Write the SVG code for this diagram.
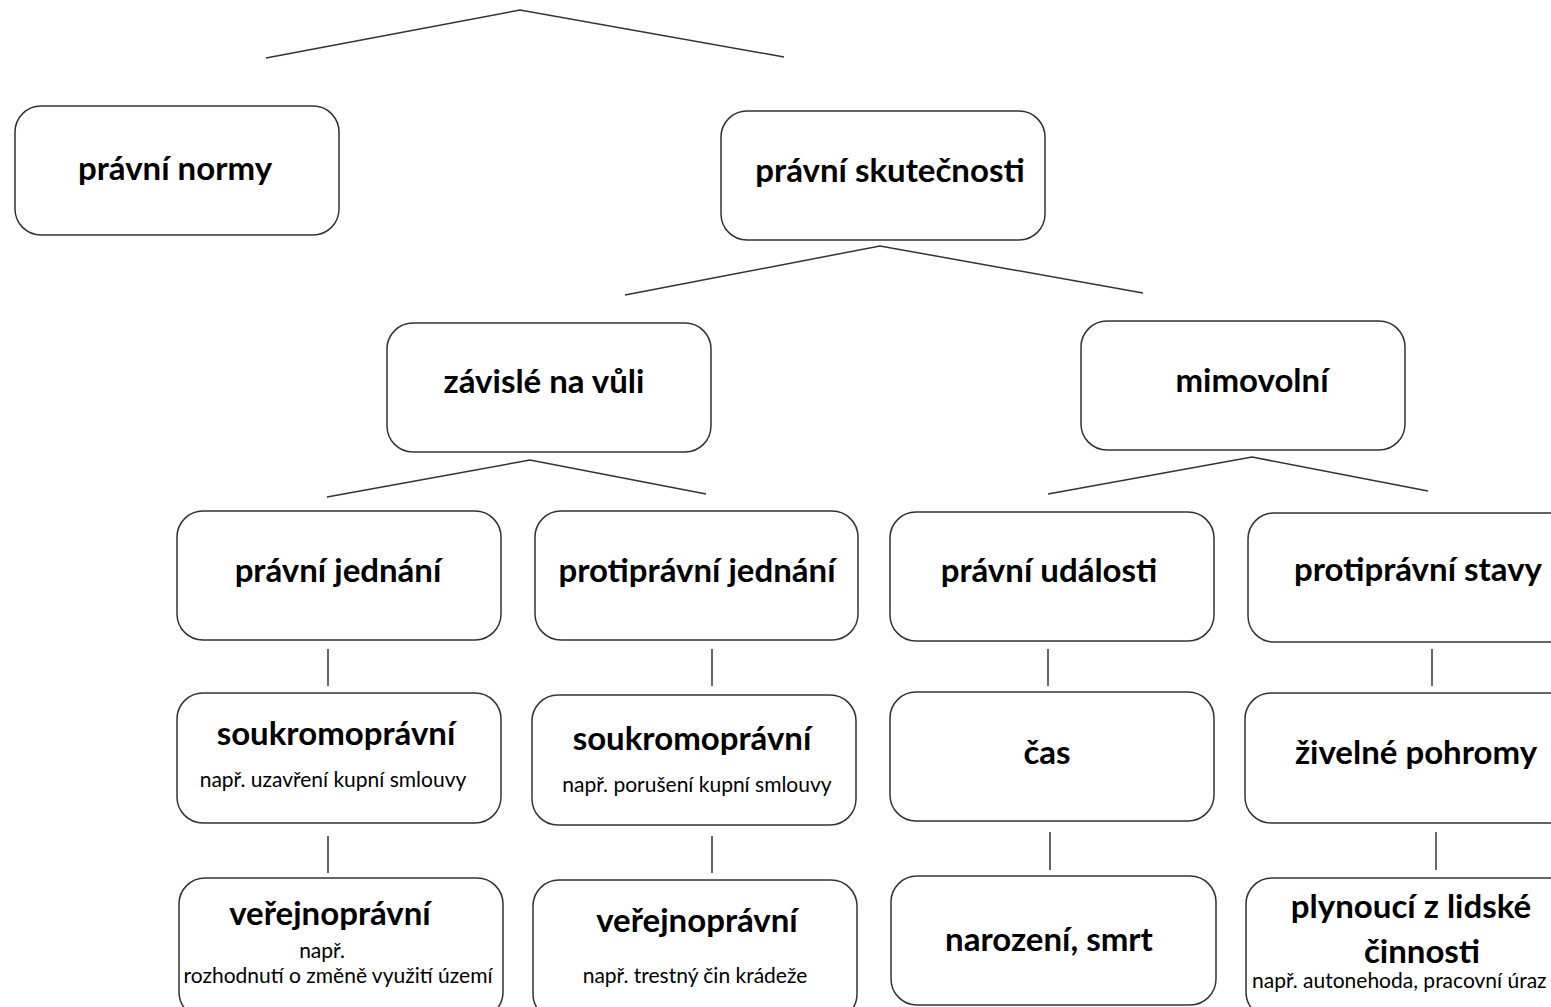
<svg xmlns="http://www.w3.org/2000/svg" width="1551" height="1007" viewBox="0 0 1551 1007">
<style>
.box{fill:#fff;stroke:#333;stroke-width:1.5}
.ln{fill:none;stroke:#333;stroke-width:1.5}
.t{font-family:Lato,"Open Sans","Liberation Sans",sans-serif;font-weight:bold;font-size:33px;fill:#000;text-anchor:middle}
.s{font-family:Lato,"Open Sans","Liberation Sans",sans-serif;font-size:21px;fill:#000;text-anchor:middle}
</style>
<rect width="1551" height="1007" fill="#fff"/>
<g id="connectors">
<polyline class="ln" points="266,58 520,10 784,57"/>
<polyline class="ln" points="625,295 880,246 1143,293"/>
<polyline class="ln" points="327,497 530,460 706,494"/>
<polyline class="ln" points="1048,494 1252,457 1428,491"/>
<line class="ln" x1="328" y1="649" x2="328" y2="686"/>
<line class="ln" x1="712" y1="649" x2="712" y2="686"/>
<line class="ln" x1="1048" y1="649" x2="1048" y2="686"/>
<line class="ln" x1="1432" y1="649" x2="1432" y2="686"/>
<line class="ln" x1="328" y1="836" x2="328" y2="873"/>
<line class="ln" x1="712" y1="836" x2="712" y2="873"/>
<line class="ln" x1="1050" y1="832" x2="1050" y2="870"/>
<line class="ln" x1="1436" y1="832" x2="1436" y2="870"/>
</g>
<g id="pravni-normy"><rect class="box" x="15" y="106" width="324" height="129" rx="26"/><text class="t" x="175" y="180">právní normy</text></g>
<g id="pravni-skutecnosti"><rect class="box" x="721" y="111" width="324" height="129" rx="26"/><text class="t" x="890" y="182">právní skutečnosti</text></g>
<g id="zavisle"><rect class="box" x="387" y="323" width="324" height="129" rx="26"/><text class="t" x="544" y="393">závislé na vůli</text></g>
<g id="mimovolni"><rect class="box" x="1081" y="321" width="324" height="129" rx="26"/><text class="t" x="1252" y="392">mimovolní</text></g>
<g id="pravni-jednani"><rect class="box" x="177" y="511" width="324" height="129" rx="26"/><text class="t" x="338" y="582">právní jednání</text></g>
<g id="protipravni-jednani"><rect class="box" x="535" y="511" width="323" height="129" rx="26"/><text class="t" x="697" y="582">protiprávní jednání</text></g>
<g id="pravni-udalosti"><rect class="box" x="890" y="512" width="324" height="129" rx="26"/><text class="t" x="1049" y="582">právní události</text></g>
<g id="protipravni-stavy"><rect class="box" x="1248" y="513" width="330" height="129" rx="26"/><text class="t" x="1418" y="581">protiprávní stavy</text></g>
<g id="soukromopravni-1"><rect class="box" x="177" y="693" width="324" height="130" rx="26"/><text class="t" x="336" y="745">soukromoprávní</text><text class="s" x="333" y="787">např. uzavření kupní smlouvy</text></g>
<g id="soukromopravni-2"><rect class="box" x="532" y="695" width="324" height="130" rx="26"/><text class="t" x="692" y="750">soukromoprávní</text><text class="s" x="697" y="792">např. porušení kupní smlouvy</text></g>
<g id="cas"><rect class="box" x="890" y="692" width="324" height="129" rx="26"/><text class="t" x="1047" y="764">čas</text></g>
<g id="zivelne-pohromy"><rect class="box" x="1245" y="693" width="330" height="130" rx="26"/><text class="t" x="1416" y="764">živelné pohromy</text></g>
<g id="verejnopravni-1"><rect class="box" x="179" y="878" width="324" height="140" rx="26"/><text class="t" x="330" y="925">veřejnoprávní</text><text class="s" x="322" y="958">např.</text><text class="s" x="338" y="983">rozhodnutí o změně využití území</text></g>
<g id="verejnopravni-2"><rect class="box" x="533" y="880" width="324" height="140" rx="26"/><text class="t" x="697" y="932">veřejnoprávní</text><text class="s" x="695" y="983">např. trestný čin krádeže</text></g>
<g id="narozeni-smrt"><rect class="box" x="891" y="876" width="325" height="129" rx="26"/><text class="t" x="1049" y="951">narození, smrt</text></g>
<g id="lidska-cinnost"><rect class="box" x="1246" y="878" width="330" height="140" rx="26"/><text class="t" x="1411" y="918">plynoucí z lidské</text><text class="t" x="1422" y="963">činnosti</text><text class="s" x="1252" y="988" style="text-anchor:start">např. autonehoda, pracovní úraz</text></g>
</svg>
